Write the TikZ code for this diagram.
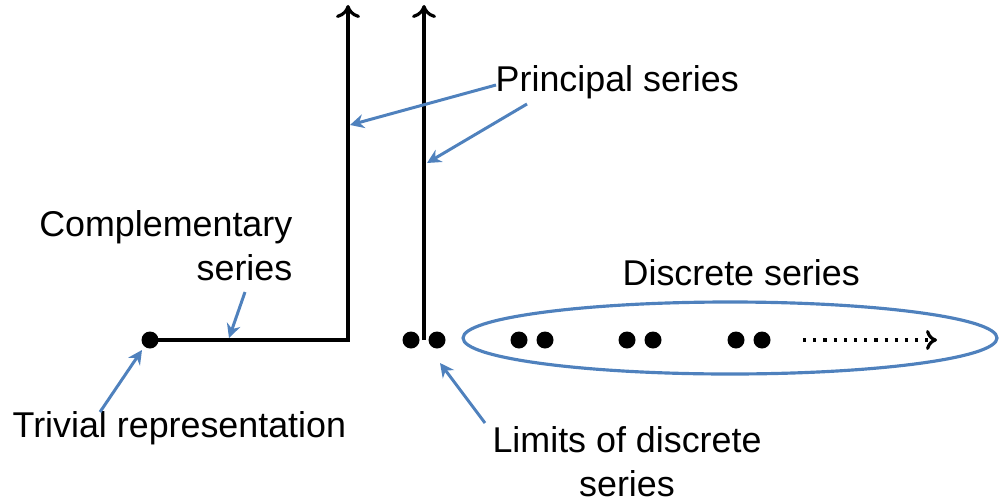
\documentclass[tikz,border=0pt]{standalone}
\usepackage{fontspec}
\setmainfont{Liberation Sans}
\usetikzlibrary{arrows.meta}
\definecolor{bleuoffice}{RGB}{79,129,189}

\begin{document}
\begin{tikzpicture}[
	point/.style={circle,fill=black,inner sep=0pt,minimum size=1.7mm},
	texte/.style={inner sep=0pt,font=\fontsize{10.2}{12.3}\selectfont},
	axe/.style={line width=0.9pt,-{To[length=1.3mm,width=2.4mm]}},
	renvoi/.style={bleuoffice,line width=0.85pt,-{Stealth[length=1.4mm,width=1.4mm]}}
]
\useasboundingbox (0,0) rectangle (10,5.02);

%points
	\node[point] (triv) at (1.50,1.62) {};
	\node[point] (lim1) at (4.11,1.62) {};
	\node[point] (lim2) at (4.37,1.62) {};
	\node[point] (d1) at (5.19,1.62) {};
	\node[point] (d2) at (5.45,1.62) {};
	\node[point] (d3) at (6.27,1.62) {};
	\node[point] (d4) at (6.53,1.62) {};
	\node[point] (d5) at (7.36,1.62) {};
	\node[point] (d6) at (7.62,1.62) {};

%axes
	\coordinate (coin) at (3.48,1.62);
	\coordinate (haut1) at (3.48,4.97);
	\coordinate (bas2) at (4.24,1.62);
	\coordinate (haut2) at (4.24,4.97);
	\draw[axe] (triv.center) -- (coin) -- (haut1);
	\draw[axe] (bas2) -- (haut2);

%serie discrete
	\coordinate (pt1) at (8.03,1.62);
	\coordinate (pt2) at (9.37,1.62);
	\draw[line width=0.9pt,dotted,-{To[length=1.1mm,width=2mm]}] (pt1) -- (pt2);
	\draw[bleuoffice,line width=0.9pt] (7.30,1.64) ellipse (2.67 and 0.36);

%textes
	\node[texte,anchor=base west] (principal) at (4.95,4.10) {Principal series};
	\node[texte,anchor=base east,align=right] (comp) at (2.93,2.22) {Complementary\\series};
	\node[texte,anchor=base west] (discrete) at (6.22,2.17) {Discrete series};
	\node[texte,anchor=base west] (trivial) at (0.12,0.65) {Trivial representation};
	\node[texte,anchor=base,align=center] (limits) at (6.27,0.06) {Limits of discrete\\series};

%renvois
	\coordinate (p1) at (4.96,4.17);
	\coordinate (c1) at (3.50,3.77);
	\coordinate (p2) at (5.27,3.98);
	\coordinate (c2) at (4.27,3.39);
	\coordinate (s1) at (2.45,2.10);
	\coordinate (c3) at (2.29,1.64);
	\coordinate (t1) at (1.00,0.90);
	\coordinate (c4) at (1.42,1.52);
	\coordinate (l1) at (4.85,0.79);
	\coordinate (c5) at (4.40,1.39);
	\draw[renvoi] (p1) -- (c1);
	\draw[renvoi] (p2) -- (c2);
	\draw[renvoi] (s1) -- (c3);
	\draw[renvoi] (t1) -- (c4);
	\draw[renvoi] (l1) -- (c5);

\end{tikzpicture}
\end{document}
